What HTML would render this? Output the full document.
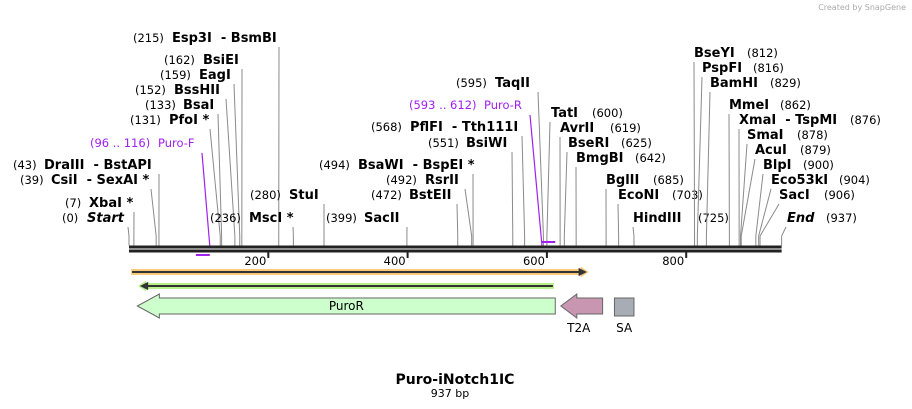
<!DOCTYPE html>
<html><head><meta charset="utf-8">
<style>
html,body{margin:0;padding:0;background:#fff;}
svg{display:block;font-family:"DejaVu Sans","Liberation Sans",sans-serif;}
text{white-space:pre;}
.n{font-size:13px;font-weight:bold;fill:#000;}
.p{font-size:11.5px;fill:#000;}
.pu{font-size:11.5px;fill:#a020f0;}
.ll{stroke:#8a8a8a;stroke-width:1;fill:none;}
</style></head>
<body>
<svg id="map" width="912" height="409" viewBox="0 0 912 409" xmlns="http://www.w3.org/2000/svg">
<text x="906" y="10" text-anchor="end" font-size="8" fill="#aaa">Created by SnapGene</text>
<g id="sites"></g>
<g id="backbone"></g>
<g id="features"></g>
<text x="455" y="384" text-anchor="middle" font-size="14" font-weight="bold">Puro-iNotch1IC</text>
<text x="450" y="397" text-anchor="middle" font-size="11">937 bp</text>
</svg>
<script>
const seqLength = 937;
const tickValues = [200, 400, 600, 800];
const enzymeNames = ["Start","XbaI *","CsiI  - SexAI *","DraIII  - BstAPI","PfoI *","BsaI","BssHII","EagI","BsiEI","Esp3I  - BsmBI","MscI *","StuI","SacII","BstEII","RsrII","BsaWI  - BspEI *","BsiWI","PflFI  - Tth111I","TaqII","TatI","AvrII","BseRI","BmgBI","BglII","EcoNI","HindIII","BseYI","PspFI","BamHI","MmeI","XmaI  - TspMI","SmaI","AcuI","BlpI","Eco53kI","SacI","End"];
const enzymeSites = [0,7,39,43,131,133,152,159,162,215,236,280,399,472,492,494,551,568,595,600,619,625,642,685,703,725,812,816,829,862,876,878,879,900,904,906,937];
// label layout: [numberX, nameX, baselineY, side(L: number first / R: name first), lineTopX]
const labelLayout = [
[62,87,222,"L",128],[65,89,207,"L",134],[20,51,184,"L",151],[13,44,169,"L",159],
[130,169,124,"L",210],[145,183,109,"L",218],[135,174,94,"L",226],[160,199,79,"L",234],[164,203,64,"L",242],
[133,172,42,"L",279],[210,249,222,"L",293],[250,289,199,"L",324],[326,364,222,"L",407],[371,409,199,"L",457],
[386,425,184,"L",465],[319,358,169,"L",473],[428,466,147,"L",512],[371,410,131,"L",522],[456,495,87,"L",538],
[592,551,117,"R",550],[610,560,132,"R",560],[621,568,147,"R",567],[635,576,162,"R",576],[653,606,184,"R",606],
[672,618,199,"R",618],[698,633,222,"R",633],[747,694,57,"R",694],[753,702,72,"R",702],[770,710,87,"R",710],
[780,729,109,"R",729],[850,739,124,"R",739],[797,747,139,"R",747],[800,755,154,"R",755],[803,763,169,"R",763],
[839,771,184,"R",771],[824,779,199,"R",779],[826,787,222,"R",786]];
const primerNames = ["Puro-F","Puro-R"];
const primerStarts = [96,593];
const primerEnds = [116,612];
const featureNames = ["orange-arrow","green-arrow","PuroR","T2A","SA"];
const featureStarts = [3,16,12,620,697];
const featureEnds = [657,610,612,680,725];

const NS="http://www.w3.org/2000/svg";
const X = bp => 129 + bp*0.6965;
function mk(tag, attrs, parent){const e=document.createElementNS(NS,tag);for(const k in attrs)e.setAttribute(k,attrs[k]);parent.appendChild(e);return e;}
const sites=document.getElementById('sites'), bb=document.getElementById('backbone'), ft=document.getElementById('features');

let b1=mk('rect',{x:X(0),y:245.5,width:X(seqLength)-X(0),height:3,fill:'#222'},bb);


let b2=mk('rect',{x:X(0),y:249.5,width:X(seqLength)-X(0),height:3,fill:'#222'},bb);


tickValues.forEach(v=>{
  let t=mk('rect',{x:X(v)-1,y:252,width:2,height:6,fill:'#222'},bb);
  
  
  let tl=mk('text',{x:X(v)-2,y:265,'text-anchor':'end','font-size':11.5},bb);
  tl.textContent=v;
  
  
});

enzymeNames.forEach((nm,i)=>{
  const [nx,mx,y,side,lx]=labelLayout[i];
  const sx=X(enzymeSites[i]);
  let ln=mk('path',{d:`M${lx} ${y+5} L${sx} 236 L${sx} 245.5`,class:'ll'},sites);
  
  
  let g=mk('g',{},sites);
  
  
  let num=mk('text',{x:nx,y:y,class:'p'},g);
  num.textContent='('+enzymeSites[i]+')';
  let nt=mk('text',{x:mx,y:y,class:'n'},g);
  nt.textContent=nm;
  if(nm==='Start'||nm==='End') nt.setAttribute('font-style','italic');
});

const primerLabel=[[90,158,147,202],[409,484,109,530]];
primerNames.forEach((nm,i)=>{
  const [nx,mx,y,lx]=primerLabel[i];
  const fwd=i===0;
  const bx=fwd?X(primerEnds[i]):X(primerStarts[i]);
  let ln=mk('path',{d:`M${lx} ${y+6} L${bx} 246`,stroke:'#a020f0','stroke-width':1.2,fill:'none'},sites);
  
  
  let bar=mk('rect',{x:X(primerStarts[i]),y:fwd?254:241,width:X(primerEnds[i])-X(primerStarts[i]),height:2,fill:'#a020f0'},sites);
  
  
  let t=mk('text',{x:nx,y:y,class:'pu'},sites);
  t.textContent='('+primerStarts[i]+' .. '+primerEnds[i]+')';
  
  
  let t2=mk('text',{x:mx,y:y,class:'pu','font-size':13},sites);
  t2.textContent=nm;
  
  
});

(function(){
  let a=X(featureStarts[0]), b=X(featureEnds[0]);
  let o=mk('path',{d:`M${a} 269 L${b-6} 269 L${b-6} 266.5 L${b+2} 272 L${b-6} 277.5 L${b-6} 275 L${a} 275 Z`,fill:'#f8c97a'},ft);
  
  
  let ol=mk('path',{d:`M${a+1} 272 L${b-3} 272 M${b-7} 269.5 L${b-2} 272 L${b-7} 274.5 Z`,stroke:'#333','stroke-width':2,fill:'#333'},ft);
  
  
  a=X(featureStarts[1]); b=X(featureEnds[1]);
  let g=mk('path',{d:`M${b} 283 L${a+6} 283 L${a+6} 280.5 L${a-2} 286 L${a+6} 291.5 L${a+6} 289 L${b} 289 Z`,fill:'#b8f08a'},ft);
  
  
  let gl=mk('path',{d:`M${b-1} 286 L${a+3} 286 M${a+7} 283.5 L${a+2} 286 L${a+7} 288.5 Z`,stroke:'#333','stroke-width':2,fill:'#333'},ft);
  
  
  a=X(featureStarts[2]); b=X(featureEnds[2]);
  let p=mk('path',{d:`M${b} 298 L${a+22} 298 L${a+22} 294 L${a} 306 L${a+22} 318 L${a+22} 314 L${b} 314 Z`,fill:'#ccffcc',stroke:'#666','stroke-width':1},ft);
  
  
  let pt=mk('text',{x:(a+b)/2,y:310,'text-anchor':'middle','font-size':12},ft);
  pt.textContent='PuroR';
  
  
  a=X(featureStarts[3]); b=X(featureEnds[3]);
  let t=mk('path',{d:`M${b} 298 L${a+16} 298 L${a+16} 294 L${a} 306 L${a+16} 318 L${a+16} 314 L${b} 314 Z`,fill:'#c896b0',stroke:'#666','stroke-width':1},ft);
  
  
  let tt=mk('text',{x:(a+b)/2-3,y:332,'text-anchor':'middle','font-size':12},ft);
  tt.textContent='T2A';
  
  
  a=X(featureStarts[4]); b=X(featureEnds[4]);
  let s=mk('rect',{x:a,y:298,width:b-a,height:18,fill:'#a8acb4',stroke:'#666','stroke-width':1},ft);
  
  
  let st=mk('text',{x:(a+b)/2,y:332,'text-anchor':'middle','font-size':12},ft);
  st.textContent='SA';
  
  
})();
</script>
</body></html>
